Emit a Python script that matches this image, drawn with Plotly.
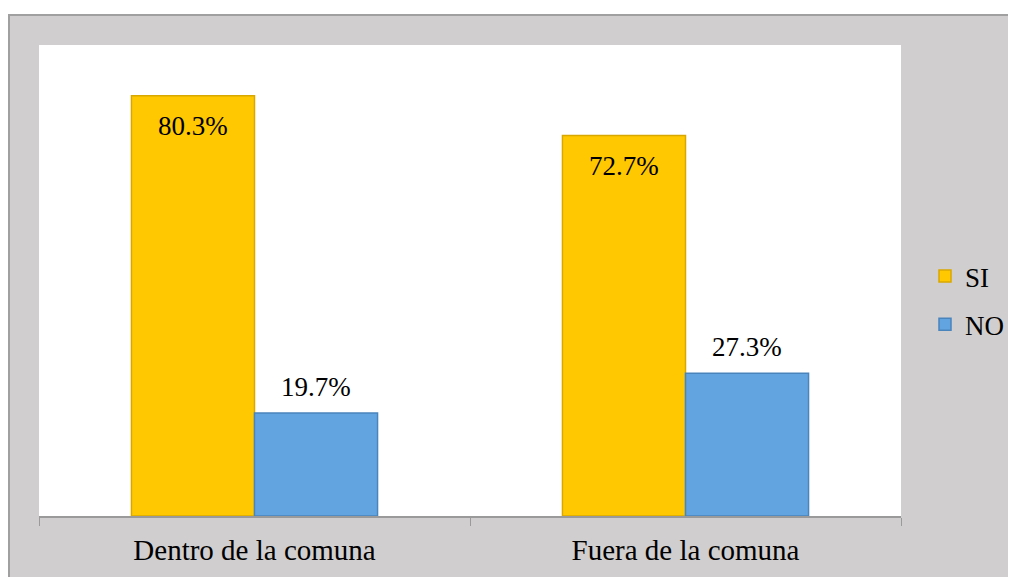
import plotly.graph_objects as go

categories = ["Dentro de la comuna", "Fuera de la comuna"]
si_values = [80.3, 72.7]
no_values = [19.7, 27.3]
series_names = ["SI", "NO"]

SI_COLOR = "#ffc800"
SI_LINE = "#d9a800"
NO_COLOR = "#62a4e0"
NO_LINE = "#4a84bc"
FONT = "Liberation Serif, Times New Roman, serif"

OFF = 8  # default body margin of the html page
W, H = 1016, 577 - OFF
PL, PR, PT, PB = 39, 901, 45, 516  # plot area in page pixels
L, T = PL - OFF, PT - OFF
R = W - (PR - OFF)
B = H - (PB - OFF)
BAR_W = 0.2855

fig = go.Figure()
fig.add_trace(go.Bar(
    x=categories, y=si_values, name=series_names[0],
    marker=dict(color=SI_COLOR, line=dict(color=SI_LINE, width=1.5)),
    width=BAR_W, offset=-BAR_W, legendgroup="a",
))
fig.add_trace(go.Bar(
    x=categories, y=no_values, name=series_names[1],
    marker=dict(color=NO_COLOR, line=dict(color=NO_LINE, width=1.5)),
    width=BAR_W, offset=0, legendgroup="b",
))

annotations = []
for i, v in enumerate(si_values):
    annotations.append(dict(
        x=i - BAR_W / 2, y=v, xref="x", yref="y", text=f"{v:.1f}%",
        showarrow=False, yshift=-30, font=dict(family=FONT, size=27, color="black"),
    ))
for i, v in enumerate(no_values):
    annotations.append(dict(
        x=i + BAR_W / 2, y=v, xref="x", yref="y", text=f"{v:.1f}%",
        showarrow=False, yshift=26, font=dict(family=FONT, size=27, color="black"),
    ))

pw = PR - PL
ph = PB - PT
def px_x(p):
    return (p - PL) / pw
def px_y(p):
    return (PB - p) / ph

shapes = [
    dict(type="rect", xref="paper", yref="paper", layer="below",
         x0=px_x(9), x1=px_x(1016 + 30), y0=px_y(577 + 20), y1=px_y(15),
         fillcolor="#d0cece", line=dict(color="#a0a0a0", width=2)),
    dict(type="rect", xref="paper", yref="paper", layer="below",
         x0=0, x1=1, y0=0, y1=1, fillcolor="white", line=dict(width=0)),
]

fig.update_layout(
    width=W, height=H,
    margin=dict(l=L, r=R, t=T, b=B, pad=0),
    paper_bgcolor="white", plot_bgcolor="white",
    barmode="group", bargap=0.43, bargroupgap=0,
    font=dict(family=FONT, color="black"),
    showlegend=True,
    legend=dict(x=px_x(925), y=px_y(252), xanchor="left", yanchor="top",
                font=dict(family=FONT, size=27, color="black"),
                bgcolor="rgba(0,0,0,0)", tracegroupgap=10, itemwidth=30),
    xaxis=dict(showline=True, linecolor="#9a9a9a", linewidth=1.5,
               ticks="outside", tickson="boundaries", ticklen=8, tickcolor="#9a9a9a",
               tickfont=dict(family=FONT, size=29, color="black"),
               ticklabelstandoff=7,
               showgrid=False, zeroline=False),
    yaxis=dict(range=[0, 90], visible=False, showgrid=False, zeroline=False),
    annotations=annotations,
    shapes=shapes,
)

fig.write_html("out.html")
